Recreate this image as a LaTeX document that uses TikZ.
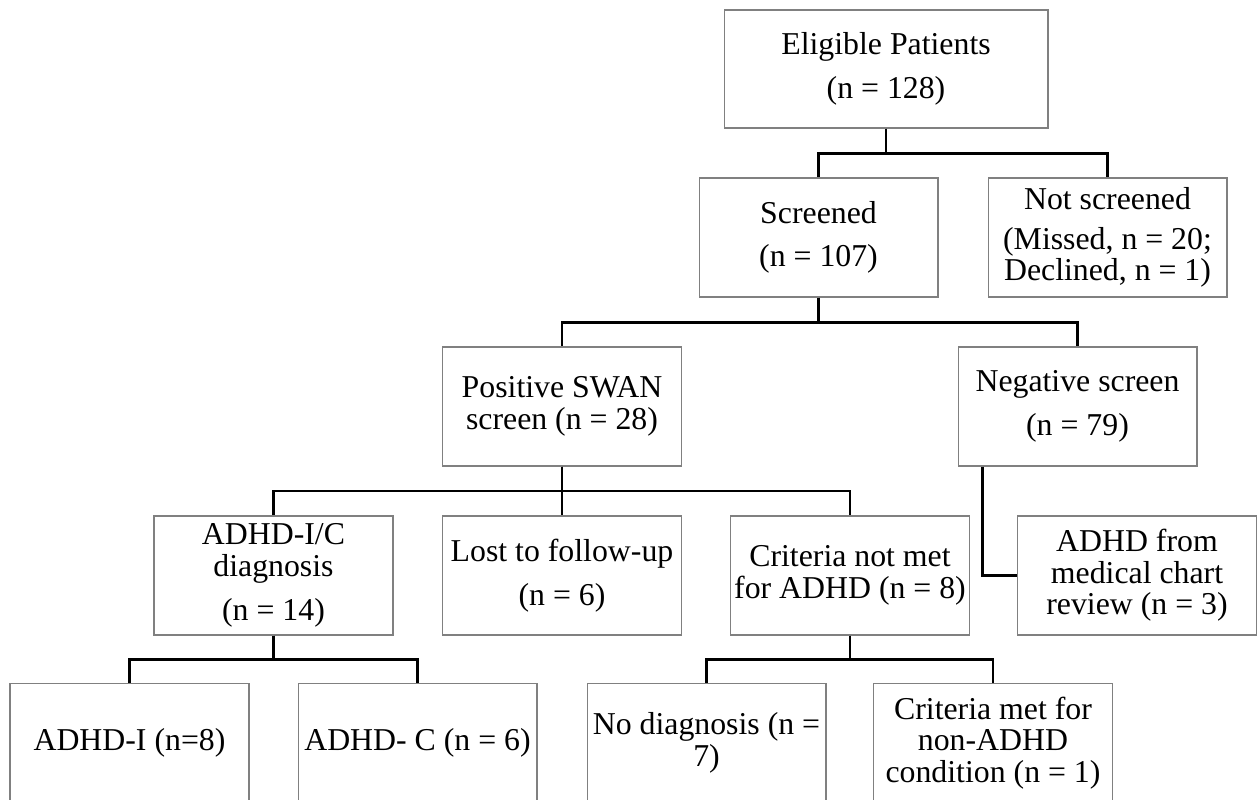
\documentclass[tikz,border=0pt]{standalone}
\usepackage{fontspec}
\setmainfont{Liberation Serif}
\usepackage{tikz}
\definecolor{boxgray}{HTML}{808080}

\begin{document}
\begin{tikzpicture}[x=0.02cm, y=-0.02cm,
    every node/.style={font=\fontsize{18.1}{18}\selectfont},
    box/.style={draw=boxgray, line width=0.6pt, minimum width=4.78cm, minimum height=2.38cm, align=center, inner sep=1pt},
    conn/.style={black, line width=1.3pt}]
    \useasboundingbox (0,0) rectangle (1257,799);
    \node[box, minimum width=6.48cm, minimum height=2.36cm] (elig) at (886,69) {Eligible Patients\\[6.8pt](n = 128)};
    \node[box] (scr) at (818.5,237.5) {Screened\\[6.8pt](n = 107)};
    \node[box] (nscr) at (1107.5,237.5) {Not screened\\[4.5pt](Missed, n = 20;\\Declined, n = 1)};
    \node[box] (pos) at (562,406.5) {Positive SWAN\\screen (n = 28)};
    \node[box] (neg) at (1077.5,406.5) {Negative screen\\[6.8pt](n = 79)};
    \node[box] (adic) at (273.5,575.5) {ADHD-I/C\\diagnosis\\[7pt](n = 14)};
    \node[box] (lost) at (562,575.5) {Lost to follow-up\\[6.8pt](n = 6)};
    \node[box] (cnm) at (850,575.5) {Criteria not met\\for ADHD (n = 8)};
    \node[box] (chart) at (1137,575.5) {ADHD from\\medical chart\\review (n = 3)};
    \node[box] (adi) at (129.5,743) {ADHD-I (n=8)};
    \node[box] (adc) at (417.5,743) {ADHD- C (n = 6)};
    \node[box] (nodx) at (706.5,743) {No diagnosis (n =\\7)};
    \node[box] (cmet) at (993,743) {Criteria met for\\non-ADHD\\condition (n = 1)};
    \draw[conn] (elig.south) -- ++(0,25) -| (scr.north);
    \draw[conn] (elig.south) -- ++(0,25) -| (nscr.north);
    \draw[conn] (scr.south) -- ++(0,25) -| (pos.north);
    \draw[conn] (scr.south) -- ++(0,25) -| (neg.north);
    \draw[conn] (pos.south) -- ++(0,24.5) -| (adic.north);
    \draw[conn] (pos.south) -- (lost.north);
    \draw[conn] (pos.south) -- ++(0,24.5) -| (cnm.north);
    \draw[conn] ([xshift=0.5cm]neg.south west) |- (chart.west);
    \draw[conn] (adic.south) -- ++(0,24) -| (adi.north);
    \draw[conn] (adic.south) -- ++(0,24) -| (adc.north);
    \draw[conn] (cnm.south) -- ++(0,24) -| (nodx.north);
    \draw[conn] (cnm.south) -- ++(0,24) -| (cmet.north);
  \end{tikzpicture}
\end{document}
